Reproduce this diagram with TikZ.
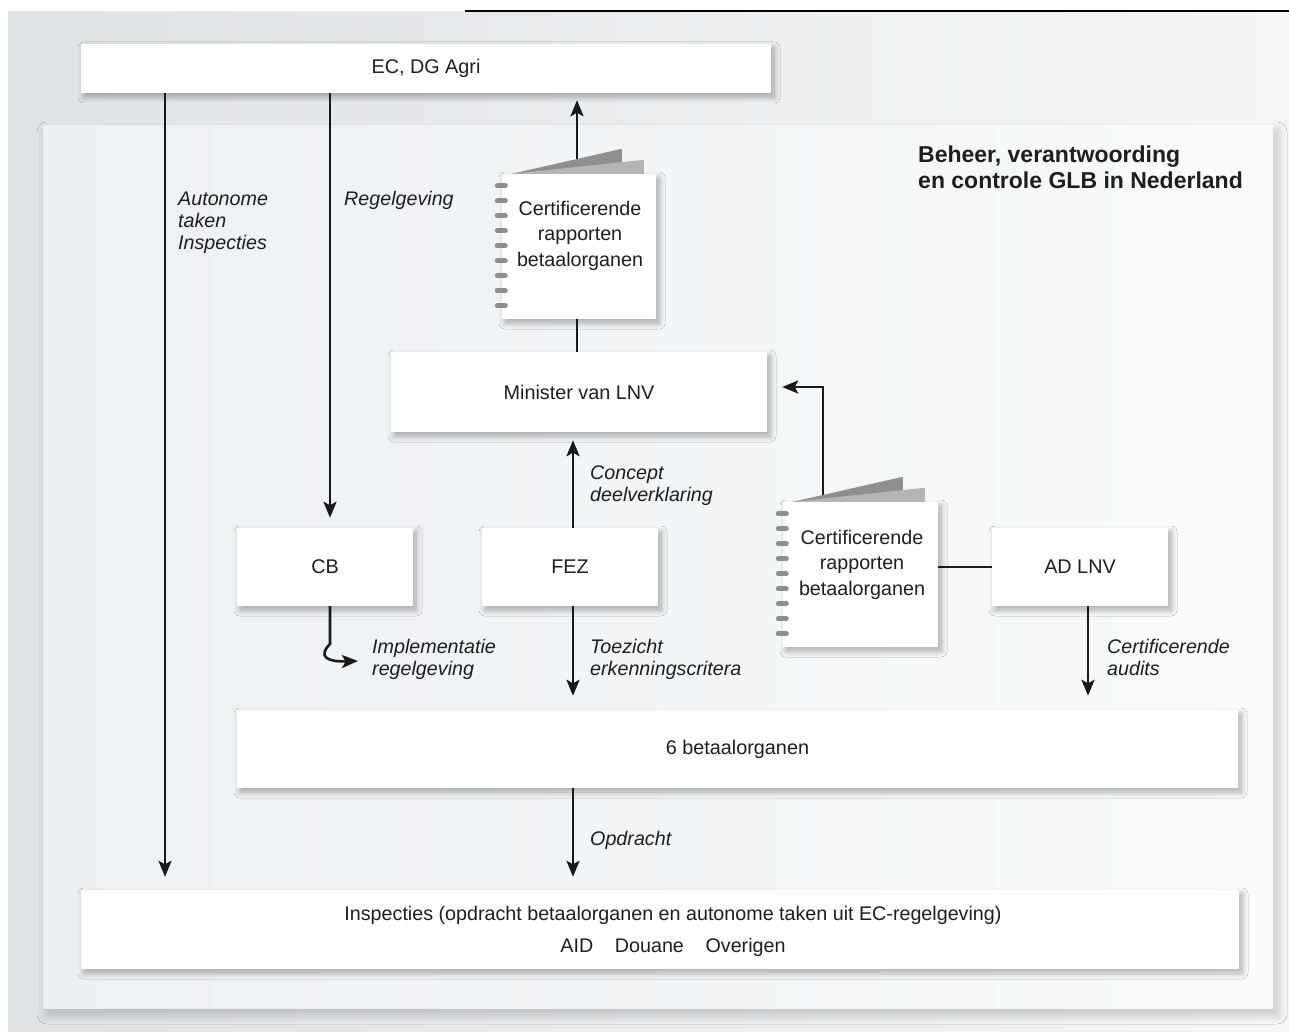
\documentclass[tikz,border=0pt]{standalone}
\usepackage{fontspec}
\setmainfont{Liberation Sans}
\usetikzlibrary{arrows.meta,shadows.blur,calc}
\definecolor{outerL}{HTML}{E1E2E4}
\definecolor{outerR}{HTML}{F6F6F6}
\definecolor{panelL}{HTML}{EEEFF1}
\definecolor{panelR}{HTML}{FAFAFA}
\definecolor{txt}{HTML}{1E1E1E}
\definecolor{ringc}{HTML}{8E8E8E}
\definecolor{pagedark}{HTML}{8F8F8F}
\definecolor{pagelight}{HTML}{B4B4B4}
\begin{document}
\begin{tikzpicture}[x=1pt,y=-1pt,
  box/.style={fill=white, draw=none, inner sep=0pt, text=txt,
    font=\fontsize{19.8}{24}\selectfont,
    blur shadow={shadow xshift=3pt, shadow yshift=-4pt, shadow blur radius=6pt, shadow blur steps=10, shadow opacity=32}},
  page/.style={box},
  ln/.style={line width=2.6pt, draw=black!90},
  arr/.style={ln, -{Stealth[length=16pt,width=13pt,inset=3.5pt]}},
  lab/.style={font=\fontsize{19.7}{22}\selectfont\itshape, align=left, inner sep=0pt, anchor=base west, text=txt},
  nbtext/.style={font=\fontsize{19.7}{25.5}\selectfont, align=center, inner sep=0pt, anchor=base, text=txt},
  ringline/.style={line width=5pt, line cap=round, draw=ringc}
]
\useasboundingbox (0,0) rectangle (1289,1032);

% backgrounds
\shade[left color=outerL, right color=outerR] (8,12) rectangle (1289,1032);
\node[inner sep=0pt, minimum width=1230pt, minimum height=882pt, left color=panelL, right color=panelR,
    blur shadow={shadow xshift=4pt, shadow yshift=-6pt, shadow blur radius=10pt, shadow blur steps=12, shadow opacity=22}]
    (panel) at (658,567) {};
\draw[line width=2pt] (465,11) -- (1289,11);

% column coordinates
\coordinate (cA) at (165,0);
\coordinate (cR) at (330,0);
\coordinate (cF) at (573,0);
\coordinate (cN) at (577,0);
\coordinate (cD) at (1088,0);
\coordinate (kink) at (823,387);
\coordinate (cbA) at (330,644);
\coordinate (cbB) at (358,661);

% boxes
\node[box, minimum width=690pt, minimum height=49pt] (ec) at (426,68.5) {EC, DG Agri};
\node[box, minimum width=376pt, minimum height=80pt] (min) at (579,392) {Minister van LNV};
\node[box, minimum width=176pt, minimum height=78pt] (cb) at (325,567) {CB};
\node[box, minimum width=176pt, minimum height=78pt] (fez) at (570,567) {FEZ};
\node[box, minimum width=176pt, minimum height=78pt] (ad) at (1080,567) {AD LNV};
\node[box, minimum width=1001pt, minimum height=78pt] (bet) at (737.5,749) {6 betaalorganen};
\node[box, minimum width=1158pt, minimum height=79pt] (insp) at (660,929.5) {};
\node[nbtext, font=\fontsize{19.7}{32}\selectfont] (insptext) at (673,952)
  {Inspecties (opdracht betaalorganen en autonome taken uit EC-regelgeving)\\
   AID\hspace{1.1em}Douane\hspace{1.1em}Overigen};

% notebooks
\node[page, minimum width=154pt, minimum height=145pt] (nb1) at (579,246.5) {};
\node[nbtext] (nb1t) at (580,266) {Certificerende\\rapporten\\betaalorganen};
\node[page, minimum width=155pt, minimum height=145pt] (nb2) at (860.5,574.5) {};
\node[nbtext] (nb2t) at (862,595) {Certificerende\\rapporten\\betaalorganen};
\foreach \n in {nb1,nb2}{
  \foreach \i in {0,...,8}{
    \draw[ringline] ($(\n.north west)+(-4.5,12+15*\i)$) -- ++(8,0);
  }
}

% connectors passing under the back pages
\draw[arr, shorten >=7pt] (nb1.north -| cN) -- (ec.south -| cN);
\draw[arr, shorten >=15pt] (nb2.north -| kink) -- (kink) -- (min.east |- kink);
\foreach \n in {nb1,nb2}{
  \fill[pagedark] ($(\n.north west)+(10,0)$) -- ($(\n.north west)+(120,-25)$) -- ($(\n.north west)+(120,0)$) -- cycle;
  \fill[pagelight] ($(\n.north west)+(10,0)$) -- ($(\n.north west)+(142,-14)$) -- ($(\n.north west)+(142,0)$) -- cycle;
}

% connectors
\draw[arr, shorten >=13pt] (ec.south -| cA) -- (insp.north -| cA);
\draw[arr, shorten >=10pt] (ec.south -| cR) -- (cb.north -| cR);
\draw[ln] (nb1.south -| cN) -- (min.north -| cN);
\draw[arr, shorten >=8pt] (fez.north -| cF) -- (min.south -| cF);
\draw[ln] (nb2.east |- ad.west) -- (ad.west);
\draw[arr] (cb.south -| cR) -- (cbA) .. controls (318,656) and (326,662) .. (cbB);
\draw[arr, shorten >=14pt] (fez.south -| cF) -- (bet.north -| cF);
\draw[arr, shorten >=14pt] (ad.south -| cD) -- (bet.north -| cD);
\draw[arr, shorten >=13pt] (bet.south -| cF) -- (insp.north -| cF);

% labels
\node[lab] (l1) at (178,250) {Autonome\\taken\\Inspecties};
\node[lab] (l2) at (344,206) {Regelgeving};
\node[lab] (l3) at (590,501) {Concept\\deelverklaring};
\node[lab] (l4) at (372,675) {Implementatie\\regelgeving};
\node[lab] (l5) at (590,675) {Toezicht\\erkenningscritera};
\node[lab] (l6) at (1107,675) {Certificerende\\audits};
\node[lab] (l7) at (590,845) {Opdracht};

\node[font=\fontsize{23}{26}\selectfont\bfseries, align=left, inner sep=0pt, anchor=base west, text=txt]
  (title) at (918,189) {Beheer, verantwoording\\en controle GLB in Nederland};
\end{tikzpicture}
\end{document}
